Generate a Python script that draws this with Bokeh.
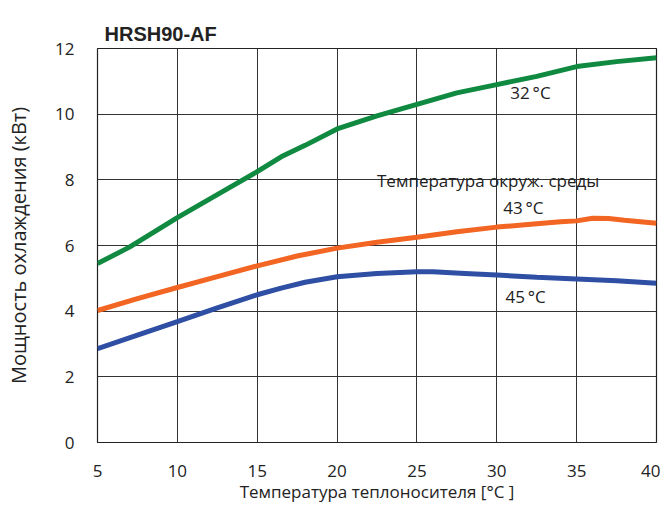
from bokeh.plotting import figure
from bokeh.models import Label, FixedTicker, Range1d
from bokeh.embed import file_html
from bokeh.resources import INLINE

# ---- data ----
x_32 = [5, 7, 10, 12.5, 15, 16.5, 18, 20, 22.5, 25, 27.5, 30, 32.5, 35, 37.5, 40]
y_32 = [5.45, 5.95, 6.85, 7.55, 8.25, 8.7, 9.05, 9.55, 9.95, 10.3, 10.65, 10.9, 11.15, 11.45, 11.6, 11.72]

x_43 = [5, 7.5, 10, 12.5, 15, 17.5, 20, 22.5, 25, 27.5, 30, 32.5, 34, 35, 36, 37, 38, 40]
y_43 = [4.02, 4.38, 4.72, 5.05, 5.38, 5.68, 5.92, 6.1, 6.25, 6.42, 6.56, 6.66, 6.72, 6.75, 6.83, 6.82, 6.77, 6.68]

x_45 = [5, 7.5, 10, 12.5, 15, 16.5, 18, 20, 22.5, 25, 26, 28, 30, 32.5, 35, 37.5, 40]
y_45 = [2.86, 3.27, 3.68, 4.1, 4.5, 4.7, 4.88, 5.05, 5.15, 5.2, 5.2, 5.15, 5.1, 5.03, 4.98, 4.93, 4.85]

x_ticks = [5, 10, 15, 20, 25, 30, 35, 40]
y_ticks = [0, 2, 4, 6, 8, 10, 12]

title_text = "HRSH90-AF"
x_label = "Температура теплоносителя [°C ]"
y_label = "Мощность охлаждения (кВт)"
series_labels = ["32\u2009°C", "43\u2009°C", "45\u2009°C"]
ambient_label = "Температура окруж. среды"

FONT = "Open Sans"

p = figure(width=660, height=514, output_backend="svg", toolbar_location=None,
           x_range=Range1d(5, 40), y_range=Range1d(0, 12),
           min_border_left=97, min_border_right=4, min_border_top=48, min_border_bottom=72)

p.title.text = title_text
p.title.text_font = "Liberation Sans"
p.title.text_font_style = "bold"
p.title.text_font_size = "20px"
p.title.text_color = "#222222"
p.title.align = "left"
p.title.vertical_align = "top"
p.title.offset = 7
p.title.standoff = 4

p.outline_line_color = "#222222"
p.outline_line_width = 1.2

for ax in (p.xaxis[0], p.yaxis[0]):
    ax.axis_line_color = None
    ax.major_tick_line_color = None
    ax.minor_tick_line_color = None
    ax.major_label_text_font = FONT
    ax.major_label_text_font_size = "17px"
    ax.major_label_text_color = "#222222"
    ax.axis_label_text_font = FONT
    ax.axis_label_text_font_style = "normal"
    ax.axis_label_text_color = "#222222"

p.xaxis.axis_label_text_font_size = "17px"
p.yaxis.axis_label_text_font_size = "20px"
p.xaxis.ticker = FixedTicker(ticks=x_ticks)
p.yaxis.ticker = FixedTicker(ticks=y_ticks)
p.xaxis.major_label_standoff = 16
p.yaxis.major_label_standoff = 17
p.xaxis.axis_label = x_label
p.yaxis.axis_label = y_label
p.xaxis.axis_label_standoff = 0
p.yaxis.axis_label_standoff = 20

p.xgrid.grid_line_color = "#333333"
p.ygrid.grid_line_color = "#333333"
p.xgrid.grid_line_width = 1
p.ygrid.grid_line_width = 1

p.line(x_32, y_32, line_color="#0f8a40", line_width=5)
p.line(x_43, y_43, line_color="#f26522", line_width=5)
p.line(x_45, y_45, line_color="#2e4fa3", line_width=5)

lab_kw = dict(text_font=FONT, text_font_size="17px", text_color="#222222", text_baseline="middle")
p.add_layout(Label(x=30.85, y=10.66, text=series_labels[0], **lab_kw))
p.add_layout(Label(x=22.5, y=7.97, text=ambient_label, **lab_kw))
p.add_layout(Label(x=30.4, y=7.15, text=series_labels[1], **lab_kw))
p.add_layout(Label(x=30.55, y=4.45, text=series_labels[2], **lab_kw))

open("out.html", "w").write(file_html(p, INLINE))
